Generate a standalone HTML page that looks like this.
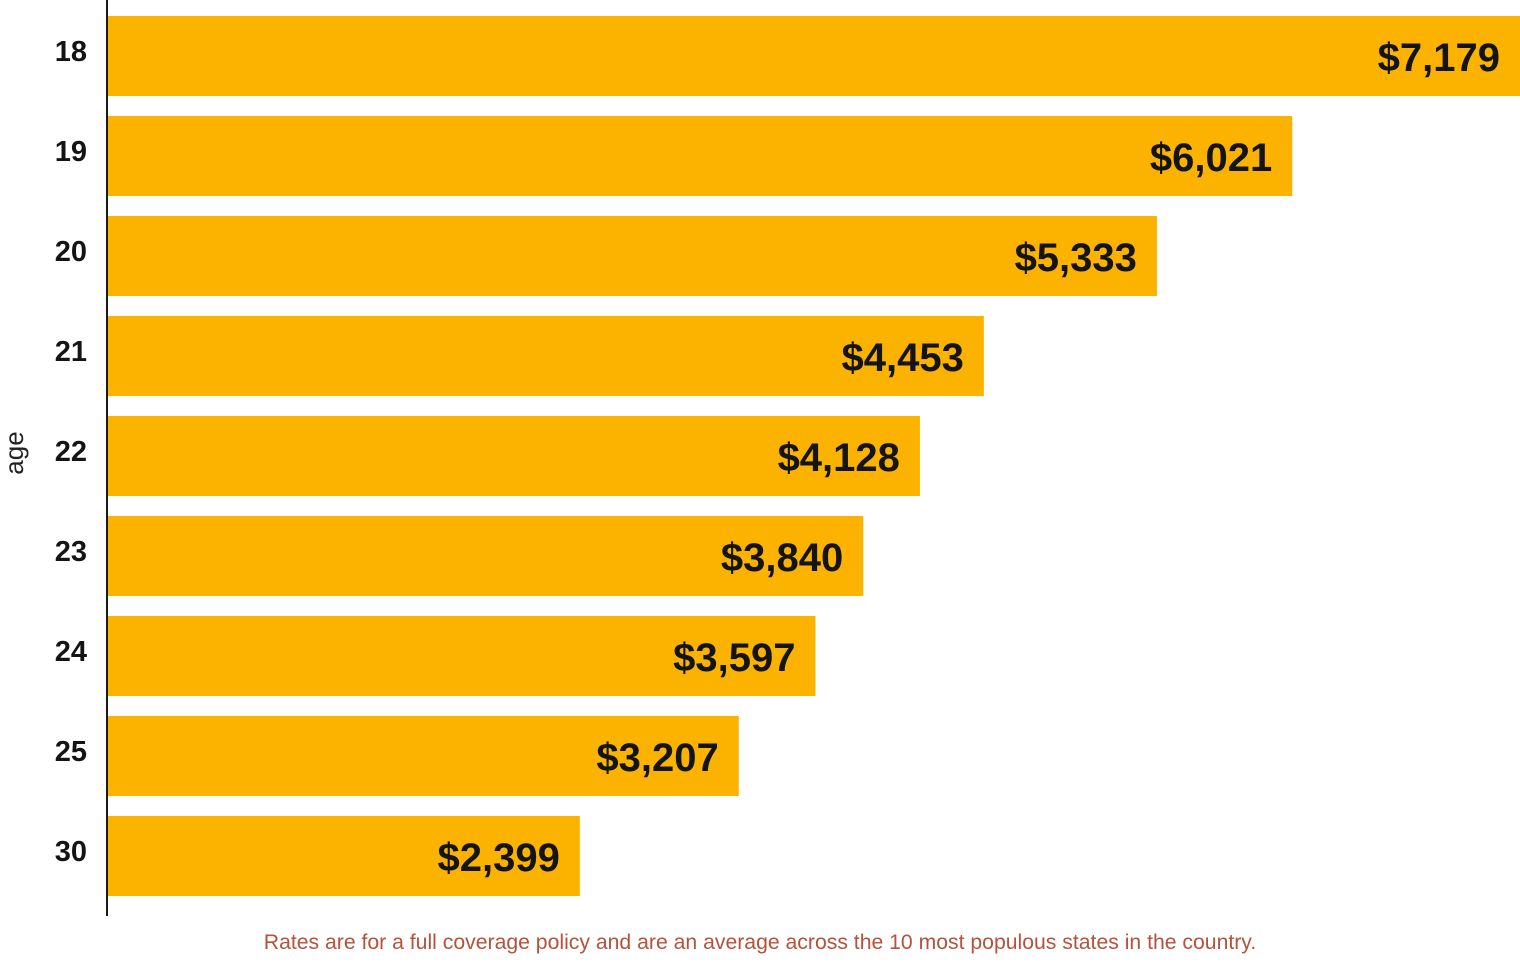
<!DOCTYPE html>
<html><head><meta charset="utf-8"><style>
html,body{margin:0;padding:0;background:#fff;}
body{width:1520px;height:960px;overflow:hidden;}
svg text{font-family:"Liberation Sans",sans-serif;}
</style></head><body>
<svg id="chart" width="1520" height="960" viewBox="0 0 1520 960">
<g id="bars"></g>
<line x1="107" y1="0" x2="107" y2="916" stroke="#1a1a1a" stroke-width="2"/>
<text transform="translate(23,453) rotate(-90)" text-anchor="middle" font-size="26" fill="#222">age</text>
<text x="760" y="949" text-anchor="middle" font-size="21.2" fill="#b5523b">Rates are for a full coverage policy and are an average across the 10 most populous states in the country.</text>
</svg>
<script>
const categories = ["18","19","20","21","22","23","24","25","30"];
const values = [7179,6021,5333,4453,4128,3840,3597,3207,2399];
const labels = ["$7,179","$6,021","$5,333","$4,453","$4,128","$3,840","$3,597","$3,207","$2,399"];
const x0 = 108, xMaxPx = 1520, vMax = 7179;
function xScale(v){ return x0 + (v / vMax) * (xMaxPx - x0); }
function yScale(i){ return 16 + i * 100; }
const ns = "http://www.w3.org/2000/svg";
const g = document.getElementById("bars");
categories.forEach((c, i) => {
  const y = yScale(i);
  const r = document.createElementNS(ns, "rect");
  r.setAttribute("x", x0); r.setAttribute("y", y);
  r.setAttribute("width", xScale(values[i]) - x0); r.setAttribute("height", 80);
  r.setAttribute("fill", "#fbb300");
  
  
  g.appendChild(r);
  const t = document.createElementNS(ns, "text");
  t.setAttribute("x", xScale(values[i]) - 20); t.setAttribute("y", y + 55);
  t.setAttribute("text-anchor", "end"); t.setAttribute("font-size", "40");
  t.setAttribute("font-weight", "bold"); t.setAttribute("fill", "#141414");
  t.textContent = labels[i];
  
  
  g.appendChild(t);
  const a = document.createElementNS(ns, "text");
  a.setAttribute("x", 87); a.setAttribute("y", y + 45);
  a.setAttribute("text-anchor", "end"); a.setAttribute("font-size", "29");
  a.setAttribute("font-weight", "bold"); a.setAttribute("fill", "#141414");
  a.textContent = c;
  
  
  g.appendChild(a);
});
</script>
</body></html>
